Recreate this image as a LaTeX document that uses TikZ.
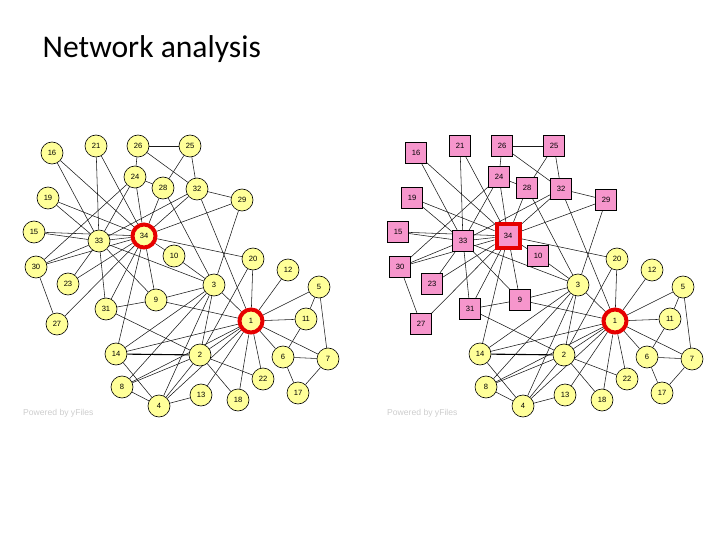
\documentclass[tikz,border=0pt]{standalone}
\usepackage{fontspec}
\setmainfont{Carlito}
\newfontfamily\lblfont{Liberation Sans}
\definecolor{nodeyellow}{RGB}{255,255,153}
\definecolor{nodepink}{RGB}{246,150,204}
\definecolor{hired}{RGB}{230,0,0}
\definecolor{wmark}{RGB}{205,205,205}
\pgfdeclarelayer{bg}
\pgfsetlayers{bg,main}
\tikzset{
  edge/.style={draw=black!90, line width=0.55pt},
  thickedge/.style={draw=black, line width=1.1pt},
  yn/.style={circle, draw=black, line width=0.6pt, fill=nodeyellow, minimum size=22pt, inner sep=0pt, font=\lblfont\fontsize{7.6}{9}\selectfont},
  pn/.style={rectangle, draw=black, line width=0.6pt, fill=nodepink, minimum size=21pt, inner sep=0pt, font=\lblfont\fontsize{7.6}{9}\selectfont},
  ynhl/.style={yn, draw=hired, line width=4pt, minimum size=23pt},
  pnhl/.style={pn, draw=hired, line width=4pt, minimum size=23pt},
  wm/.style={anchor=west, inner sep=0pt, text=wmark, font=\lblfont\fontsize{8.6}{10}\selectfont},
}
\begin{document}
\begin{tikzpicture}[x=1pt,y=-1pt]
\useasboundingbox (0,0) rectangle (720,540);
\node[anchor=base west, inner sep=0pt, font=\fontsize{31.6}{36}\selectfont] (title) at (42.5,57.5) {Network analysis};
% left graph
\foreach \n/\x/\y in {2/200/355,3/214/285,4/159/406,5/319/287,6/283/357,7/328/359,8/122/387,9/156/300,10/174/256,11/306/319,12/288/270,13/201/395,14/116/354,15/34/232,16/52/153,17/298/393,18/238/400,19/48/198,20/253/259,21/96/146,22/263/379,23/68/284,24/135/177,25/190/146,26/138/146,27/57/324,28/163/188,29/242/200,30/36/267,31/106/309,32/197/189,33/99/241}
  \node[yn] (L\n) at (\x,\y) {\n};
\node[ynhl] (L1) at (251,321) {1};
\node[ynhl] (L34) at (144,236) {34};
% right graph
\foreach \n/\x/\y in {2/200/355,3/214/285,4/159/406,5/319/287,6/283/357,7/328/359,8/122/387,11/306/319,12/288/270,13/201/395,14/116/354,17/298/393,18/238/400,20/253/259,22/263/379}
  \node[yn] (R\n) at ({\x+364},\y) {\n};
\foreach \n/\x/\y in {9/156/300,10/174/256,15/34/232,16/52/153,19/48/198,21/96/146,23/68/284,24/135/177,25/190/146,26/138/146,27/57/324,28/163/188,29/242/200,30/36/267,31/106/309,32/197/189,33/99/241}
  \node[pn] (R\n) at ({\x+364},\y) {\n};
\node[ynhl] (R1) at (615,321) {1};
\node[pnhl] (R34) at (508,236) {34};
% watermarks
\node[wm] (wmL) at (23,413) {Powered by yFiles};
\node[wm] (wmR) at (387,413) {Powered by yFiles};
\begin{pgfonlayer}{bg}
\foreach \g in {L,R}{
  \foreach \a/\b in {1/2,1/3,1/4,1/5,1/6,1/7,1/8,1/9,1/11,1/12,1/13,1/14,1/18,1/20,1/22,1/32,
    2/3,2/4,2/8,2/18,2/20,2/22,2/31,
    3/4,3/8,3/9,3/10,3/14,3/28,3/29,3/33,
    4/8,4/13,4/14,5/7,5/11,6/7,6/11,6/17,7/17,
    9/31,9/33,9/34,10/34,14/34,15/33,15/34,16/33,16/34,19/33,19/34,20/34,21/33,21/34,23/33,23/34,
    24/26,24/28,24/30,24/33,24/34,25/26,25/28,25/32,26/32,27/30,27/34,28/34,29/32,29/34,
    30/33,30/34,31/33,31/34,32/33,32/34,33/34}
    \draw[edge] (\g\a) -- (\g\b);
  \draw[thickedge] (\g14) -- (\g2);
}
\end{pgfonlayer}
\end{tikzpicture}
\end{document}
